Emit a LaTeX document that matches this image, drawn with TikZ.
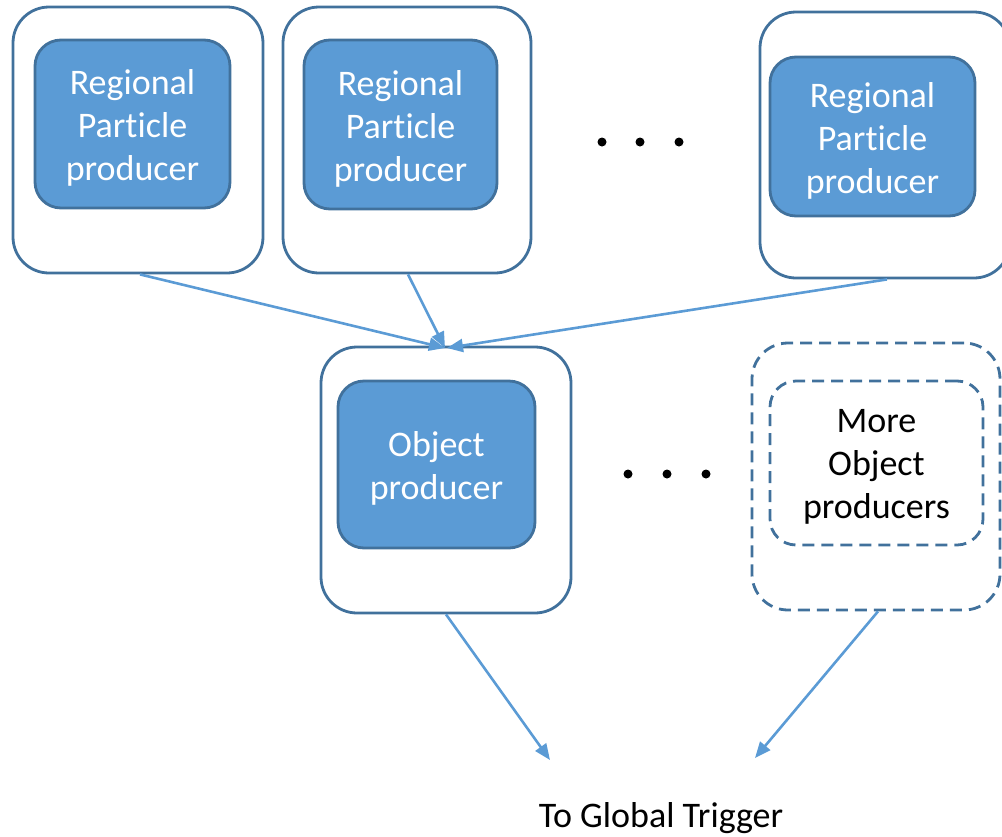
\documentclass[tikz,border=0pt]{standalone}
\usepackage{fontspec}
\setmainfont[Ligatures={NoCommon}]{Carlito}
\usetikzlibrary{arrows.meta}
\definecolor{boxfill}{HTML}{5B9BD5}
\definecolor{boxline}{HTML}{41719C}
\definecolor{arrowc}{HTML}{5B9BD5}
\tikzset{
  outerbox/.style={draw=boxline, line width=2.8pt, rounded corners=36pt},
  innerbox/.style={draw=boxline, fill=boxfill, line width=2.8pt, rounded corners=26pt, inner sep=0pt},
  boxtext/.style={font=\fontsize{36}{43}\selectfont, align=center, inner sep=0pt},
  dashedbox/.style={draw=boxline, line width=2.8pt, dash pattern=on 12pt off 7pt},
  conn/.style={draw=arrowc, line width=2.6pt, -{Triangle[length=16pt,width=13pt]}},
  dotmark/.style={fill=black, circle, inner sep=0pt, minimum size=9pt},
}
\begin{document}
\begin{tikzpicture}[x=1pt,y=-1pt]
\useasboundingbox (0,0) rectangle (1002,836);
\clip (0,0) rectangle (1002,836);
% top row
\node[outerbox, minimum width=250pt, minimum height=266pt] (o1) at (138,140) {};
\node[innerbox, minimum width=195pt, minimum height=168pt] (i1) at (132.5,124) {};
\node[boxtext, text=white] (i1t) at ([yshift=-4pt]i1.center) {Regional\\Particle\\producer};
\node[outerbox, minimum width=248pt, minimum height=266pt] (o2) at (407,140) {};
\node[innerbox, minimum width=193pt, minimum height=169pt] (i2) at (400.5,124.5) {};
\node[boxtext, text=white] (i2t) at ([yshift=-4pt]i2.center) {Regional\\Particle\\producer};
\node[outerbox, minimum width=250pt, minimum height=266pt] (o3) at (885,145) {};
\node[innerbox, minimum width=205pt, minimum height=159pt] (i3) at (872.5,136.5) {};
\node[boxtext, text=white] (i3t) at ([yshift=-4pt]i3.center) {Regional\\Particle\\producer};
\node[dotmark] (d1) at (602,142) {};
\node[dotmark] (d2) at (640,142) {};
\node[dotmark] (d3) at (679,142) {};
% middle row
\node[outerbox, minimum width=250pt, minimum height=266pt] (ob) at (446,480) {};
\node[innerbox, minimum width=197pt, minimum height=167pt] (oi) at (436.5,464.5) {};
\node[boxtext, text=white] (oit) at ([yshift=-4pt]oi.center) {Object\\producer};
\node[dotmark] (e1) at (628,474) {};
\node[dotmark] (e2) at (667,474) {};
\node[dotmark] (e3) at (706,474) {};
\node[dashedbox, rounded corners=36pt, minimum width=248pt, minimum height=267pt] (mo) at (876,476.5) {};
\node[dashedbox, rounded corners=26pt, minimum width=213pt, minimum height=164pt] (mi) at (876.5,463) {};
\node[boxtext] (mit) at ([yshift=-4pt]mi.center) {More\\Object\\producers};
% target
\node[boxtext] (gt) at (661,818) {To Global Trigger};
\coordinate (top) at (445,348);
\coordinate (t1) at (550,760);
\coordinate (t2) at (755,758);
% connectors
\draw[conn] ([xshift=2pt]o1.south) -- (top);
\draw[conn] ([xshift=1pt]o2.south) -- (top);
\draw[conn] ([xshift=2pt]o3.south) -- ([xshift=2pt]top);
\draw[conn] (ob.south) -- (t1);
\draw[conn] ([xshift=2pt]mo.south) -- (t2);
\end{tikzpicture}
\end{document}
